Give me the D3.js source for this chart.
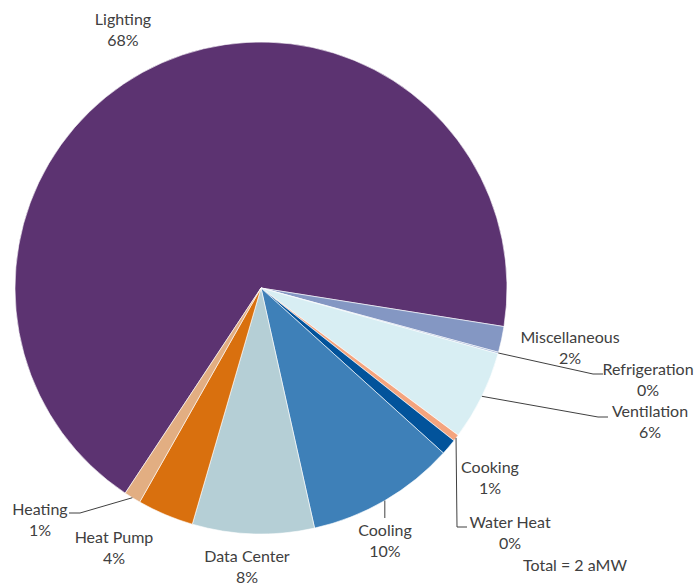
<!DOCTYPE html>
<html>
<head>
<meta charset="utf-8">
<script src="https://cdn.jsdelivr.net/npm/d3@7"></script>
<style>
  html, body { margin: 0; padding: 0; background: #ffffff; }
  svg text { font-family: Lato, "Open Sans", sans-serif; font-size: 16px; fill: #404040; }
</style>
</head>
<body>
<svg id="chart" width="698" height="588"></svg>
<script>
// End-use shares of the load, in percent, listed clockwise from the top slice
const categories = ["Lighting", "Miscellaneous", "Refrigeration", "Ventilation", "Water Heat",
                    "Cooking", "Cooling", "Data Center", "Heat Pump", "Heating"];
const values = [68.2, 1.7, 0.1, 5.9, 0.45, 1.05, 9.8, 8.0, 3.7, 1.1];
const colors = ["#5c3371", "#8497c3", "#9fb3d6", "#d8eef3", "#f4a47e",
                "#02539b", "#3e80b8", "#b5cfd6", "#d9700e", "#e2ae82"];
const totalNote = "Total = 2 aMW";

const svg = d3.select("#chart");
const cx = 261, cy = 288, radius = 246;
const deg = Math.PI / 180;
const startAngle = 213.5 * deg;

const data = categories.map((c, i) => ({ name: c, value: values[i], color: colors[i] }));
const total = d3.sum(values);

const pie = d3.pie()
  .value(d => d.value)
  .sort(null)
  .startAngle(startAngle)
  .endAngle(startAngle + 2 * Math.PI);

const arc = d3.arc().innerRadius(0).outerRadius(radius);
const arcs = pie(data);

const g = svg.append("g").attr("transform", `translate(${cx},${cy})`);
g.selectAll("path.slice")
  .data(arcs)
  .join("path")
  .attr("class", "slice")
  .attr("d", arc)
  .attr("fill", d => d.data.color)
  .attr("stroke", "#ffffff")
  .attr("stroke-width", 0.6);

// Label placement: centre x, first-line baseline, and optional leader elbow/end points
const labelLayout = {
  "Lighting":      { x: 123, y: 25 },
  "Miscellaneous": { x: 570, y: 343 },
  "Refrigeration": { x: 648, y: 375, leader: [[593, 374], [603, 374]] },
  "Ventilation":   { x: 650, y: 417, leader: [[598, 417], [608, 417]] },
  "Cooking":       { x: 490, y: 473 },
  "Water Heat":    { x: 510, y: 528, leader: [[457, 527], [467, 527]] },
  "Cooling":       { x: 385, y: 536, vertical: 518 },
  "Data Center":   { x: 247, y: 562 },
  "Heat Pump":     { x: 114, y: 543 },
  "Heating":       { x: 40,  y: 515, leader: [[80, 513], [69, 513]] }
};

const lineGap = 21;
const pct = d => Math.round(d.value / total * 100) + "%";

// Leader lines start at the outer edge of each slice, at its mid angle
const edgePoint = a => {
  const m = (a.startAngle + a.endAngle) / 2;
  return [cx + radius * Math.sin(m), cy - radius * Math.cos(m)];
};

const leaders = svg.append("g")
  .attr("fill", "none")
  .attr("stroke", "#404040")
  .attr("stroke-width", 1);

arcs.forEach(a => {
  const L = labelLayout[a.data.name];
  if (!L) return;
  if (L.leader) {
    leaders.append("path").attr("d", d3.line()([edgePoint(a), ...L.leader]));
  } else if (L.vertical !== undefined) {
    const p = edgePoint(a);
    leaders.append("path").attr("d", d3.line()([p, [p[0], L.vertical]]));
  }
});

const labels = svg.append("g");
arcs.forEach(a => {
  const L = labelLayout[a.data.name];
  const t = labels.append("text").attr("text-anchor", "middle");
  t.append("tspan").attr("x", L.x).attr("y", L.y).text(a.data.name);
  t.append("tspan").attr("x", L.x).attr("y", L.y + lineGap).text(pct(a.data));
});

svg.append("text")
  .attr("x", 523)
  .attr("y", 571)
  .text(totalNote);
</script>
</body>
</html>
